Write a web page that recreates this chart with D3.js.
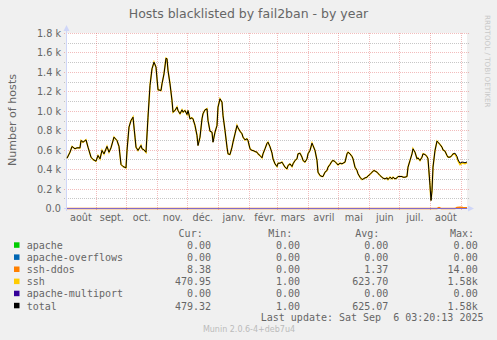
<!DOCTYPE html>
<html><head><meta charset="utf-8">
<script src="https://cdn.jsdelivr.net/npm/d3@7"></script>
<style>
html,body{margin:0;padding:0;background:#F0F0F0;}
svg{display:block;}
text{font-family:"DejaVu Sans",sans-serif;fill:#666;}
.mono{font-family:"DejaVu Sans Mono",monospace;white-space:pre;}
</style></head><body>
<svg id="c" width="497" height="340"></svg>
<script>
// ---------- data ----------
const title = "Hosts blacklisted by fail2ban - by year";
const yAxisLabel = "Number of hosts";
const lastUpdate = "Last update: Sat Sep  6 03:20:13 2025";
const muninVersion = "Munin 2.0.6-4+deb7u4";
const sideText = "RRDTOOL / TOBI OETIKER";
const startDate = "2024-08-02T03:20:13Z";
const endDate = "2025-09-06T03:20:13Z";

const yTicks = [0, 200, 400, 600, 800, 1000, 1200, 1400, 1600, 1800];
const yTickLabels = ["0.0", "0.2 k", "0.4 k", "0.6 k", "0.8 k", "1.0 k", "1.2 k", "1.4 k", "1.6 k", "1.8 k"];
const yMinorTicks = [100, 300, 500, 700, 900, 1100, 1300, 1500, 1700];

const monthStarts = ["2024-08-01", "2024-09-01", "2024-10-01", "2024-11-01", "2024-12-01", "2025-01-01",
  "2025-02-01", "2025-03-01", "2025-04-01", "2025-05-01", "2025-06-01", "2025-07-01", "2025-08-01", "2025-09-01"];
const monthLabels = ["août", "sept.", "oct.", "nov.", "déc.", "janv.", "févr.", "mars", "avril", "mai", "juin", "juil.", "août"];

// day offsets from startDate
const days = [0,3,5,8,10,13,14,16,19,21, 24,26,29,31,33,35,37,40,42,44, 47,50,52,54,56,59,60,62,64,66,
  68,69,71,74,75,77,79,81,83,85, 87,89,91,94,95,97,99,100,101,103, 105,106,108,110,111,113,115,116,118,120,
  121,123,125,126,128,130,131,133,135,136, 138,140,141,143,145,146,148,150,151,153, 155,156,158,160,161,163,165,166,168,170,
  171,173,175,176,178,180,181,183,185,186, 188,190,191,193,195,196,198,200,201,203, 205,206,208,210,211,213,215,216,218,220,
  221,223,225,226,228,230,231,233,235,236, 238,240,241,243,245,246,248,250,251,253, 255,256,258,260,261,263,265,266,268,270,
  271,273,275,276,278,280,281,283,285,286, 288,290,291,293,295,296,298,300,301,303, 305,307,310,313,316,318,320,321,323,325,
  326,328,330,331,333,335,336,338,340,341, 343,345,346,348,350,351,353,355,356,358, 360,361,363,364,365,366,368,370,371,373,
  375,376,378,380,381,383,385,386,388,390, 391,393,395,396,398,400];

const totalValues = [517,579,638,614,624,624,699,682,706,631, 528,504,487,545,511,597,562,638,579,624, 734,699,638,453,432,418,597,837,905,939,
  734,631,597,648,614,603,579,939,1265,1437, 1505,1454,1221,1214,1282,1385,1545,1540,1420,1282, 1111,991,1008,1043,1008,974,1015,991,1008,967,
  1008,922,933,922,854,751,648,734,922,974, 1015,1025,905,795,785,682,785,854,1042,1128, 1094,957,802,631,562,555,631,682,768,854,
  830,795,768,734,706,717,699,614,597,597, 586,579,562,545,521,562,614,670,682,635, 570,511,459,432,466,466,477,459,425,408,
  442,459,432,459,494,511,562,569,528,494, 477,511,562,597,672,648,597,494,374,339, 329,329,374,391,425,453,487,494,483,459,
  449,466,459,466,477,562,579,562,535,511, 425,391,357,322,298,302,315,322,335,350, 374,391,374,339,312,305,315,298,322,305,
  322,305,315,329,329,329,322,322,329,425, 494,562,614,579,511,521,494,528,562,555, 535,511,237,82,185,425,597,693,682,658,
  631,603,590,545,528,528,545,562,569,535, 501,466,477,477,470,479.32];

const sshValues = [517,579,638,614,624,624,699,682,706,631, 528,504,487,545,511,597,562,638,579,624, 734,699,638,453,432,418,597,837,905,939,
  734,631,597,648,614,603,579,939,1265,1437, 1505,1454,1221,1214,1282,1385,1545,1540,1420,1282, 1111,991,1008,1043,1008,974,1015,991,1008,967,
  1008,922,933,922,854,751,648,734,922,974, 1015,1025,905,795,785,682,785,854,1042,1128, 1094,957,802,631,562,555,631,682,768,854,
  830,795,768,734,706,717,699,614,597,597, 586,579,562,545,521,562,614,670,682,635, 570,511,459,432,466,466,477,459,425,408,
  442,459,432,459,494,511,562,569,528,494, 477,511,562,597,672,648,597,494,374,339, 329,329,374,391,425,453,487,494,483,459,
  449,466,459,466,477,562,579,562,535,511, 425,391,357,322,298,302,315,322,335,350, 374,391,374,339,312,305,315,298,322,305,
  322,305,315,329,329,329,322,322,329,425, 494,562,614,579,511,521,494,528,562,555, 535,511,237,82,185,425,597,693,682,658,
  631,603,590,545,528,528,545,562,559,523, 489,452,465,466,461,470.95];

const ddosDays = [0, 370, 372, 374, 388, 390, 393, 396, 400];
const ddosValues = [0, 0, 10, 0, 0, 12, 14, 10, 8.38];

const zeroDays = [0, 400];
const apacheValues = [0, 0];
const overflowValues = [0, 0];
const multiportValues = [0, 0];

const seriesNames = ["apache", "apache-overflows", "ssh-ddos", "ssh", "apache-multiport", "total"];
const seriesColors = ["#00CC00", "#0066B3", "#FF8000", "#FFCC00", "#330099", "#000000"];
const legendHeaders = ["Cur:", "Min:", "Avg:", "Max:"];
const curValues = ["0.00", "0.00", "8.38", "470.95", "0.00", "479.32"];
const minValues = ["0.00", "0.00", "0.00", "1.00", "0.00", "1.00"];
const avgValues = ["0.00", "0.00", "1.37", "623.70", "0.00", "625.07"];
const maxValues = ["0.00", "0.00", "14.00", "1.58k", "0.00", "1.58k"];

// ---------- drawing ----------
const svg = d3.select("#c");
const parseT = d3.utcParse("%Y-%m-%dT%H:%M:%SZ");
const parseD = d3.utcParse("%Y-%m-%d");
const t0 = parseT(startDate), t1 = parseT(endDate);
const x = d3.scaleUtc().domain([t0, t1]).range([67, 467]);
const y = d3.scaleLinear().domain([0, 1800]).range([208.5, 33.5]);
const snap = v => Math.round(v - 0.5) + 0.5;
const dayDate = d => d3.utcDay.offset(t0, d);

svg.append("rect").attr("width", 497).attr("height", 340).attr("fill", "#F0F0F0");
svg.append("rect").attr("x", 67).attr("y", 33).attr("width", 400).attr("height", 175).attr("fill", "#FFFFFF");

const grid = svg.append("g");
// minor horizontal
grid.selectAll(".hmin").data(yMinorTicks).join("line")
  .attr("x1", 64).attr("x2", 469)
  .attr("y1", d => snap(y(d))).attr("y2", d => snap(y(d)))
  .attr("stroke", "rgba(143,143,143,0.5)").attr("stroke-dasharray", "1,1");
// major horizontal
grid.selectAll(".hmaj").data(yTicks.filter(v => v > 0)).join("line")
  .attr("x1", 64).attr("x2", 469)
  .attr("y1", d => snap(y(d))).attr("y2", d => snap(y(d)))
  .attr("stroke", "rgba(222,79,79,0.38)").attr("stroke-dasharray", "1,1");
// vertical month lines
const monthDates = monthStarts.map(parseD).filter(d => d >= t0 && d <= t1);
grid.selectAll(".vmaj").data(monthDates).join("line")
  .attr("x1", d => snap(x(d))).attr("x2", d => snap(x(d)))
  .attr("y1", 33).attr("y2", 211)
  .attr("stroke", "rgba(222,79,79,0.38)").attr("stroke-dasharray", "1,1");

// axes
const axisCol = "#CFD6F8";
svg.append("line").attr("x1", 64).attr("x2", 470).attr("y1", 208.5).attr("y2", 208.5).attr("stroke", axisCol);
svg.append("line").attr("x1", 66.5).attr("x2", 66.5).attr("y1", 211).attr("y2", 30).attr("stroke", axisCol);
svg.append("path").attr("d", "M468,205.5L474,208.5L468,211.5Z").attr("fill", axisCol);
svg.append("path").attr("d", "M63.5,31L66.5,25L69.5,31Z").attr("fill", axisCol);

// series
const line = d3.line().x(d => x(dayDate(d[0]))).y(d => y(d[1]));
const zip = (a, b) => a.map((v, i) => [v, b[i]]);
const g = svg.append("g");
g.append("path").attr("d", line(zip(zeroDays, apacheValues))).attr("fill", "none").attr("stroke", seriesColors[0]);
g.append("path").attr("d", line(zip(zeroDays, overflowValues))).attr("fill", "none").attr("stroke", seriesColors[1]);
g.append("path").attr("d", line(zip(ddosDays, ddosValues))).attr("fill", "none").attr("stroke", seriesColors[2]).attr("stroke-width", 1.4);
g.append("path").attr("d", line(zip(days, sshValues))).attr("fill", "none").attr("stroke", seriesColors[3]).attr("stroke-width", 1.6);
g.append("path").attr("d", line(zip(zeroDays, multiportValues))).attr("fill", "none").attr("stroke", seriesColors[4]).attr("stroke-width", 1);
g.append("path").attr("d", line(zip(days, totalValues))).attr("fill", "none").attr("stroke", seriesColors[5]).attr("stroke-width", 1).attr("stroke-linejoin", "round");
// axis line drawn softly over the zero-value lines (as rrdtool's antialiased result)
svg.append("line").attr("x1", 67).attr("x2", 467).attr("y1", 208.5).attr("y2", 208.5).attr("stroke", "rgba(207,214,248,0.5)");

// y tick labels
svg.selectAll(".yl").data(yTicks).join("text")
  .attr("x", 61).attr("y", d => y(d) + 3.5)
  .attr("text-anchor", "end").attr("font-size", "9.7px")
  .text((d, i) => yTickLabels[i]);

// x labels (centered in month)
svg.selectAll(".xl").data(monthLabels).join("text")
  .attr("x", (d, i) => x(d3.utcDay.offset(parseD(monthStarts[i]), 15)))
  .attr("y", 221).attr("text-anchor", "middle").attr("font-size", "9.7px")
  .text(d => d);

// title
svg.append("text").attr("x", 248.5).attr("y", 18.3).attr("text-anchor", "middle")
  .attr("font-size", "12.5px").text(title);
// y label
svg.append("text").attr("transform", "translate(15.5,120) rotate(-90)")
  .attr("text-anchor", "middle").attr("font-size", "11.1px").text(yAxisLabel);
// side text
svg.append("text").attr("transform", "translate(485,15) rotate(90)")
  .attr("font-size", "7.2px").style("fill", "#c8c8c8").text(sideText);

// legend
const legendX = [202.7, 292.3, 379.3, 474];
const valueX = [211, 300, 388.3, 477.7];
svg.selectAll(".lh").data(legendHeaders).join("text").attr("class", "mono")
  .attr("x", (d, i) => legendX[i]).attr("y", 237).attr("text-anchor", "end")
  .attr("font-size", "10px").text(d => d);
const cols = [curValues, minValues, avgValues, maxValues];
seriesNames.forEach((name, i) => {
  const by = 249 + 12.1 * i;
  svg.append("rect").attr("x", 14).attr("y", by - 6.7).attr("width", 5.5).attr("height", 5.5).attr("fill", seriesColors[i]);
  svg.append("text").attr("class", "mono").attr("x", 26.7).attr("y", by).attr("font-size", "10px").text(name);
  cols.forEach((col, j) => {
    svg.append("text").attr("class", "mono").attr("x", valueX[j]).attr("y", by)
      .attr("text-anchor", "end").attr("font-size", "10px").text(col[i]);
  });
});

svg.append("text").attr("class", "mono").attr("x", 483.5).attr("y", 320.7).attr("text-anchor", "end")
  .attr("font-size", "10px").text(lastUpdate);
svg.append("text").attr("x", 249).attr("y", 331.7).attr("text-anchor", "middle")
  .attr("font-size", "8px").style("fill", "#bbbbbb").text(muninVersion);
</script>
</body></html>
